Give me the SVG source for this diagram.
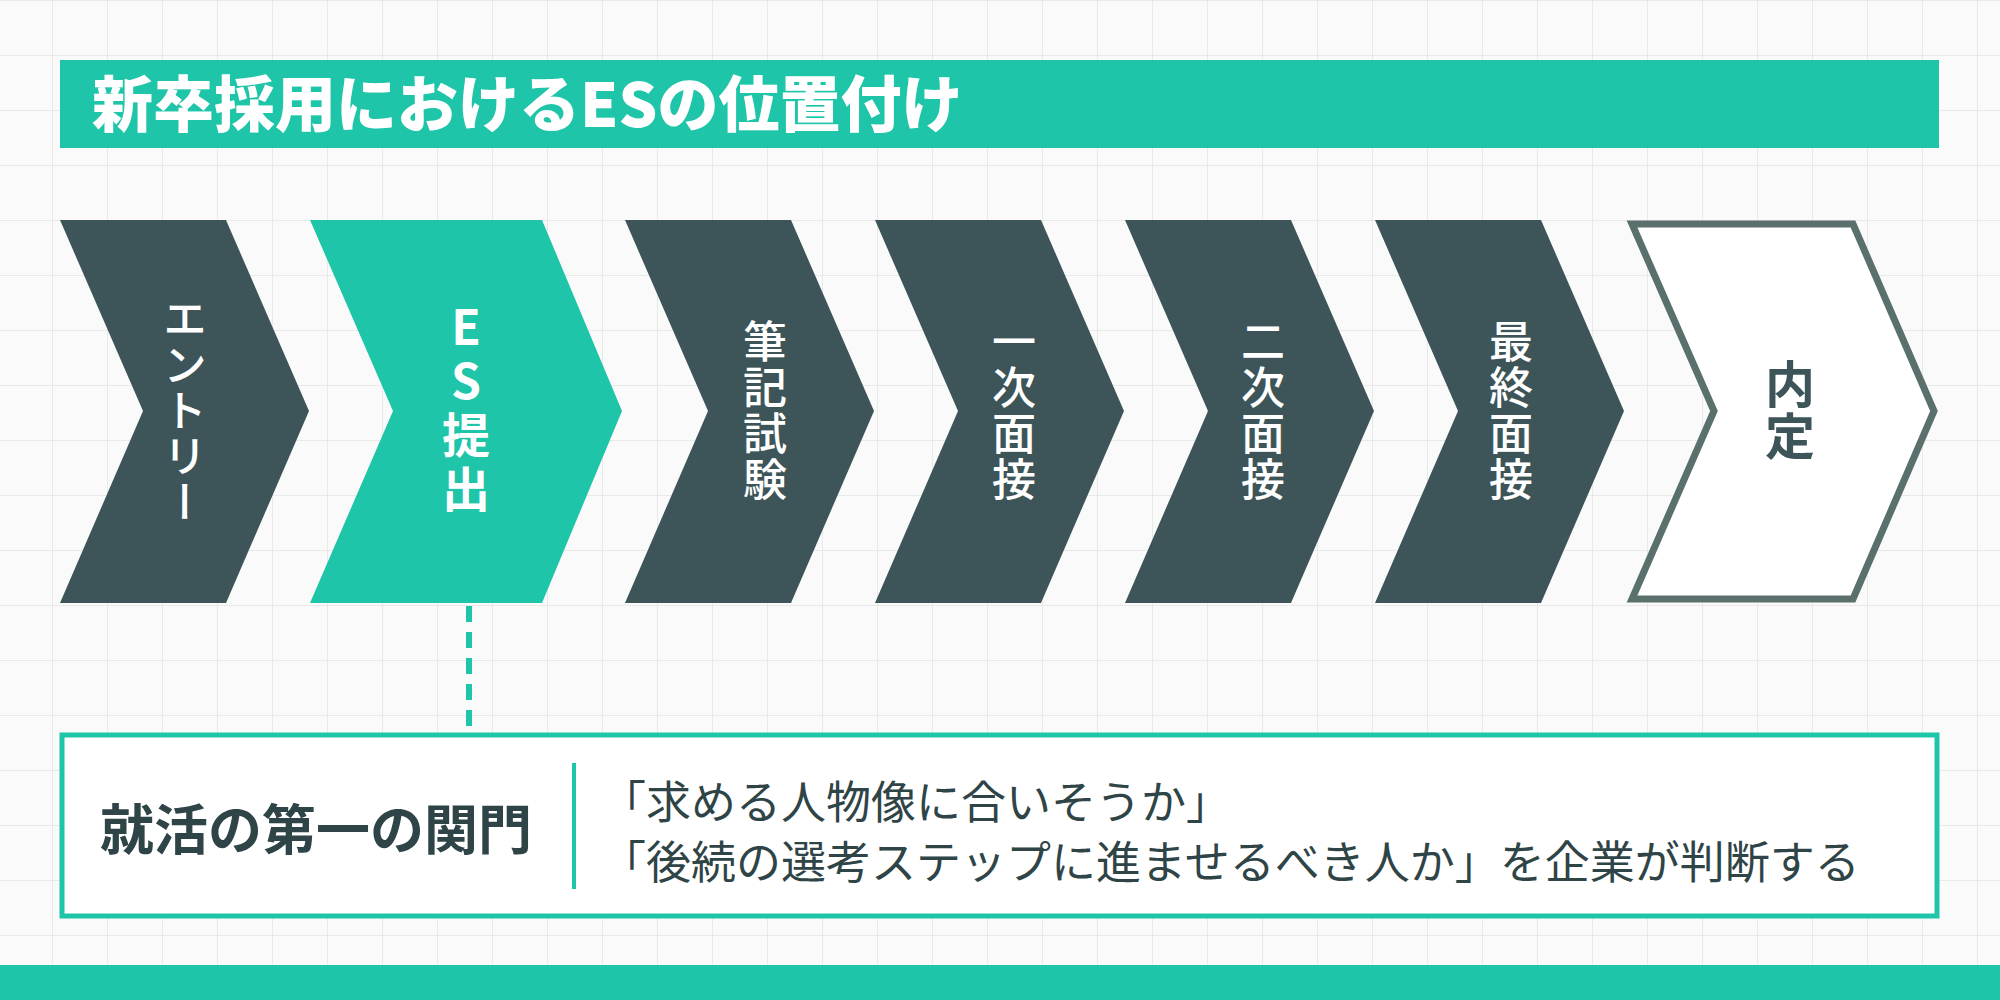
<svg xmlns="http://www.w3.org/2000/svg" width="2000" height="1000" viewBox="0 0 2000 1000">
<defs>
<pattern id="grid" width="55" height="55" patternUnits="userSpaceOnUse" x="-2" y="1">
<path d="M55 0V55M0 55H55" fill="none" stroke="#e3e3e3" stroke-width="1.5"/>
</pattern>
<style>
.dk{fill:#3d5558}.tl{fill:#1fc5a8}
.vt{font-family:"Noto Sans CJK JP",sans-serif;writing-mode:vertical-rl;text-anchor:middle;fill:#fff;font-size:44px;font-weight:500;letter-spacing:2px}
.t{font-family:"Noto Sans CJK JP",sans-serif}
</style>
</defs>
<rect width="2000" height="1000" fill="#fafafa"/>
<rect width="2000" height="1000" fill="url(#grid)"/>
<g id="title">
<rect x="60" y="60" width="1879" height="88" class="tl"/>
<text x="92" y="127" class="t" font-size="61" font-weight="900" fill="#fff">新卒採用におけるESの位置付け</text>
</g>
<g id="n1"><path d="M60 220H226L309 411L226 603H60L143 411Z" class="dk"/><text x="185" y="411" class="vt" dominant-baseline="central">エントリー</text></g>
<g id="n2"><path d="M310 220H542L622 411L542 603H310L393 411Z" class="tl"/><text x="466" y="411" class="vt" style="text-orientation:upright;font-weight:700;font-size:48px;letter-spacing:6px" dominant-baseline="central">ES提出</text></g>
<g id="n3"><path d="M625 220H791L874 411L791 603H625L708 411Z" class="dk"/><text x="765" y="411" class="vt" dominant-baseline="central">筆記試験</text></g>
<g id="n4"><path d="M875 220H1041L1124 411L1041 603H875L958 411Z" class="dk"/><text x="1014" y="411" class="vt" dominant-baseline="central">一次面接</text></g>
<g id="n5"><path d="M1125 220H1291L1374 411L1291 603H1125L1208 411Z" class="dk"/><text x="1263" y="411" class="vt" dominant-baseline="central">二次面接</text></g>
<g id="n6"><path d="M1375 220H1541L1624 411L1541 603H1375L1458 411Z" class="dk"/><text x="1511" y="411" class="vt" dominant-baseline="central">最終面接</text></g>
<g id="n7"><path d="M1632 224H1853L1934 411L1853 599H1632L1714 411Z" fill="#fff" stroke="#5a706c" stroke-width="7"/><text x="1790" y="411" class="vt" style="fill:#3d5558;font-weight:700;font-size:50px" dominant-baseline="central">内定</text></g>
<g id="connectors">
<line x1="469" y1="606" x2="469" y2="730" stroke="#1fc5a8" stroke-width="6" stroke-dasharray="16 10"/>
</g>
<g id="box">
<rect x="62" y="735" width="1875" height="181" fill="#fff" stroke="#1fc5a8" stroke-width="5"/>
<line x1="574" y1="763" x2="574" y2="889" stroke="#1fc5a8" stroke-width="4"/>
<text x="100" y="850" class="t" font-size="54" font-weight="700" fill="#2f4446">就活の第一の関門</text>
<text x="601" y="819" class="t" font-size="45" fill="#2f4446">「求める人物像に合いそうか」</text>
<text x="601" y="879" class="t" font-size="45" fill="#2f4446">「後続の選考ステップに進ませるべき人か」を企業が判断する</text>
</g>
<rect x="0" y="965" width="2000" height="35" class="tl"/>
</svg>
